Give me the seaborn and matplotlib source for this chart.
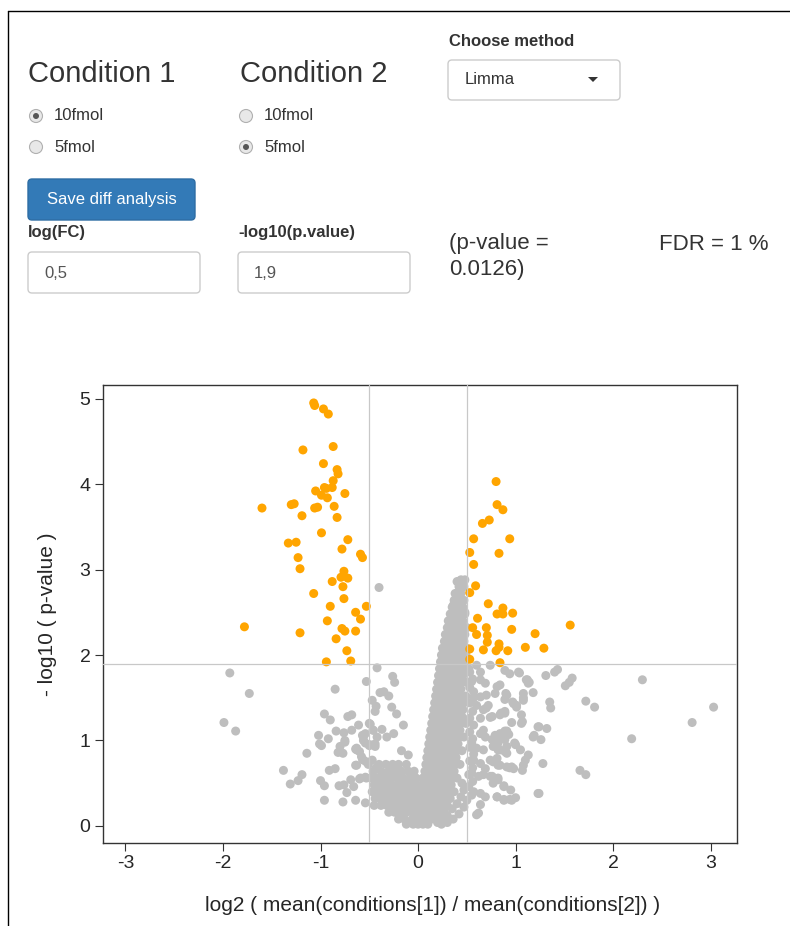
import pandas as pd
import seaborn as sns
import matplotlib.pyplot as plt
from matplotlib.patches import FancyBboxPatch, Circle, Polygon

sns.set_style("ticks")
plt.rcParams["font.family"] = ["Liberation Sans", "DejaVu Sans"]
plt.rcParams["axes.unicode_minus"] = False

# thresholds chosen in the app
fc_cut = 0.5
p_cut = 1.9

# significant proteins (log2 FC, -log10 p)
orange_pts = [
    (-1.07, 4.95), (-1.06, 4.92), (-0.97, 4.88), (-0.92, 4.82), (-1.18, 4.40), (-0.87, 4.44),
    (-0.97, 4.24), (-0.83, 4.17), (-0.82, 4.12), (-0.87, 4.04), (-1.05, 3.92), (-0.96, 3.96),
    (-0.94, 3.95), (-0.88, 3.96), (-0.99, 3.87), (-0.93, 3.84), (-0.75, 3.89), (-1.60, 3.72),
    (-1.30, 3.76), (-1.27, 3.77), (-1.06, 3.72), (-1.03, 3.73), (-0.86, 3.74), (-1.19, 3.63),
    (-0.83, 3.61), (-0.99, 3.43), (-1.33, 3.31), (-1.25, 3.32), (-0.72, 3.35), (-0.78, 3.24),
    (-0.59, 3.18), (-0.57, 3.14), (-1.23, 3.14), (-1.21, 3.01), (-0.76, 2.98), (-0.79, 2.91),
    (-0.72, 2.90), (-0.88, 2.86), (-0.77, 2.80), (-1.07, 2.72), (-0.76, 2.66), (-0.90, 2.57),
    (-0.53, 2.57), (-0.64, 2.50), (-0.59, 2.42), (-0.93, 2.40), (-1.78, 2.33), (-1.21, 2.26),
    (-0.78, 2.31), (-0.75, 2.28), (-0.64, 2.28), (-0.84, 2.19), (-0.73, 2.05), (-0.94, 1.92),
    (-0.69, 1.93),
    (0.80, 4.03), (0.81, 3.76), (0.87, 3.70), (0.66, 3.54), (0.73, 3.58), (0.57, 3.36),
    (0.94, 3.36), (0.53, 3.20), (0.83, 3.19), (0.57, 3.06), (0.59, 2.81), (0.53, 2.73),
    (0.72, 2.60), (0.87, 2.55), (0.81, 2.48), (0.87, 2.48), (0.97, 2.49), (1.56, 2.35),
    (0.61, 2.43), (0.56, 2.32), (0.70, 2.32), (0.96, 2.30), (0.60, 2.24), (0.71, 2.23),
    (0.71, 2.15), (1.20, 2.25), (0.83, 2.13), (0.83, 2.09), (0.53, 2.07), (0.67, 2.06),
    (0.80, 2.05), (0.92, 2.05), (1.10, 2.09), (1.29, 2.08), (0.53, 1.95), (0.84, 1.91),
]

# non significant proteins, scattered ones
grey_pts = [
    (-1.93, 1.79), (-1.73, 1.55), (-1.99, 1.21), (-1.87, 1.11), (-0.40, 2.79),
    (-0.85, 1.60), (-0.53, 1.69), (-0.42, 1.85), (-0.26, 1.75), (-0.24, 1.68),
    (-0.39, 1.56), (-0.35, 1.57), (-0.30, 1.52), (-0.47, 1.47), (-0.43, 1.40), (-0.44, 1.34),
    (-0.27, 1.39), (-0.22, 1.31), (-0.15, 1.18), (-0.96, 1.31), (-0.90, 1.24), (-0.72, 1.28),
    (-0.68, 1.30), (-0.61, 1.18), (-0.50, 1.20), (-0.46, 1.12), (-0.37, 1.13), (-0.32, 1.04),
    (-0.25, 1.08), (-0.68, 1.12), (-0.84, 1.11), (-0.76, 1.09), (-1.02, 1.06), (-0.92, 1.02),
    (-0.57, 1.06), (-0.56, 1.00), (-0.75, 1.00), (-1.01, 0.96), (-0.99, 0.94), (-0.80, 0.93),
    (-0.82, 0.86), (-0.77, 0.85), (-0.50, 0.94), (-0.44, 0.96), (-0.64, 0.90), (-0.60, 0.87),
    (-1.14, 0.85), (-0.17, 0.88), (-0.10, 0.83), (-0.57, 0.78), (-0.51, 0.72), (-0.64, 0.71),
    (-0.91, 0.65), (-0.85, 0.67), (-1.38, 0.65), (-1.19, 0.60), (-1.23, 0.53), (-1.31, 0.49),
    (-1.00, 0.53), (-0.96, 0.47), (-0.81, 0.47), (-0.76, 0.48), (-0.69, 0.54), (-0.66, 0.46),
    (-0.73, 0.39), (-0.60, 0.55), (-0.54, 0.57), (-0.96, 0.30), (-0.77, 0.28), (-0.64, 0.30),
    (-0.54, 0.27), (-0.75, 0.98), (-0.63, 0.91), (-0.56, 1.04), (-0.54, 0.97), (-0.63, 0.71),
    (-0.56, 0.77), (-0.59, 0.56), (-0.53, 0.56), (-0.49, 1.19), (-0.54, 1.08), (-0.46, 1.12),
    (-0.42, 1.04), (-0.49, 0.95), (-0.44, 0.93), (-0.63, 0.89), (-0.58, 0.81), (-0.53, 0.75),
    (-0.47, 0.77),
    (2.30, 1.71), (3.03, 1.39), (2.81, 1.21), (2.19, 1.02), (1.66, 0.65), (1.72, 0.60),
    (1.24, 0.38), (1.72, 1.46), (1.81, 1.39), (1.35, 1.45), (1.36, 1.38), (1.31, 1.76),
    (1.40, 1.80), (1.43, 1.83), (1.51, 1.64), (1.55, 1.68), (1.58, 1.73), (1.24, 1.16),
    (1.32, 1.14), (1.19, 1.06), (1.26, 1.01), (1.28, 0.73), (1.18, 1.56), (1.04, 1.79),
    (1.11, 1.71), (1.14, 1.68), (1.08, 1.55), (1.08, 1.50), (1.06, 1.30), (1.07, 1.22),
    (0.96, 1.21), (0.97, 1.45), (1.01, 1.41), (0.90, 1.55), (0.89, 1.48), (0.99, 0.97),
    (1.05, 0.89), (1.13, 0.83), (1.10, 0.77), (1.07, 0.65), (0.94, 0.68), (0.98, 0.67),
    (0.88, 0.47), (0.95, 0.42), (1.00, 0.33), (0.81, 0.34), (0.88, 0.31), (0.94, 0.31),
    (0.84, 1.05), (0.89, 1.11), (0.93, 1.07), (0.80, 1.05), (0.79, 0.99), (0.85, 1.32),
    (0.89, 1.34), (0.76, 1.28), (0.70, 1.38), (0.91, 0.93), (0.82, 0.89), (0.89, 0.87),
    (0.77, 0.75), (0.82, 0.71), (0.76, 0.58), (0.82, 0.56), (0.89, 1.82), (0.94, 1.78),
    (0.74, 1.88), (0.70, 1.53), (0.79, 1.55), (0.81, 1.63), (0.60, 1.88), (0.64, 1.80),
    (1.03, 1.80), (1.12, 1.71), (1.13, 1.67), (0.64, 1.71), (0.69, 1.67), (0.55, 1.69),
    (0.84, 1.65), (0.91, 1.53), (0.64, 1.51), (0.57, 1.57), (0.72, 1.41), (0.67, 1.36),
    (0.60, 1.41), (0.98, 1.43), (1.01, 1.39), (1.08, 1.47), (0.84, 1.30), (0.89, 1.32),
    (0.74, 1.27), (0.64, 1.26), (1.06, 1.20), (0.67, 1.12), (0.69, 1.04), (0.64, 1.08),
    (0.79, 1.06), (0.84, 1.08), (0.91, 1.11), (0.76, 1.01), (0.82, 0.97), (0.89, 1.01),
    (0.55, 0.97), (0.60, 0.91), (0.67, 0.89), (0.77, 0.93), (0.84, 0.89), (0.91, 0.85),
    (1.00, 0.95), (0.74, 0.77), (0.81, 0.79), (0.84, 0.71), (0.57, 0.77), (0.64, 0.73),
    (0.69, 0.67), (0.91, 0.69), (0.96, 0.69), (1.08, 0.71), (0.55, 0.62), (0.62, 0.58),
    (0.67, 0.60), (0.74, 0.58), (0.77, 0.50), (0.82, 0.54), (0.88, 0.46), (0.57, 0.40),
    (0.64, 0.38), (0.69, 0.34), (0.81, 0.34), (0.88, 0.30), (0.96, 0.30), (1.23, 0.38),
    (0.64, 0.25), (0.62, 0.15), (0.60, 0.13), (1.18, 1.04), (1.23, 1.16),
    (0.53, 1.80), (0.56, 1.72), (0.53, 1.62), (0.57, 1.50), (0.53, 1.44), (0.56, 1.34),
    (0.53, 1.26), (0.57, 1.18), (0.53, 1.10), (0.56, 1.02), (0.53, 0.92), (0.57, 0.84),
    (0.53, 0.76), (0.56, 0.68), (0.52, 0.60), (0.56, 0.52), (0.52, 0.46), (0.55, 0.36),
    (0.50, 0.30), (0.47, 0.22), (0.42, 0.14), (0.36, 0.08), (0.30, 0.04), (0.24, 0.02),
    (0.45, 0.50), (0.47, 0.42), (0.44, 0.34), (0.40, 0.26), (0.35, 0.20), (0.30, 0.12),
    (0.25, 0.08), (0.20, 0.04), (0.40, 2.86), (0.38, 2.72), (0.36, 2.58), (0.48, 2.50),
    (-0.43, 0.68), (-0.35, 0.60), (-0.27, 0.68), (-0.19, 0.60), (-0.12, 0.52), (-0.38, 0.44),
    (-0.30, 0.36), (-0.23, 0.44), (-0.16, 0.28), (-0.10, 0.20), (-0.36, 0.28), (-0.05, 0.36),
]

# dense wedge of non significant proteins, one row per -log10 p level
grey_core = [
    (2.88, [0.44, 0.48]),
    (2.80, [0.42, 0.47]),
    (2.72, [0.40, 0.44]),
    (2.64, [0.37, 0.42, 0.47]),
    (2.56, [0.35, 0.40, 0.46]),
    (2.48, [0.33, 0.38, 0.43, 0.48]),
    (2.40, [0.31, 0.36, 0.41, 0.46]),
    (2.32, [0.30, 0.35, 0.40, 0.45, 0.50]),
    (2.24, [0.28, 0.33, 0.38, 0.43, 0.48]),
    (2.16, [0.27, 0.32, 0.37, 0.42, 0.47]),
    (2.08, [0.25, 0.30, 0.35, 0.40, 0.45, 0.50]),
    (2.00, [0.24, 0.29, 0.34, 0.39, 0.44, 0.49]),
    (1.92, [0.23, 0.28, 0.33, 0.38, 0.43, 0.48]),
    (1.84, [0.22, 0.27, 0.32, 0.37, 0.42, 0.47, 0.52]),
    (1.76, [0.21, 0.26, 0.31, 0.36, 0.41, 0.46]),
    (1.68, [0.20, 0.25, 0.30, 0.35, 0.40, 0.45, 0.50]),
    (1.60, [0.19, 0.24, 0.29, 0.34, 0.39, 0.44]),
    (1.52, [0.18, 0.23, 0.28, 0.33, 0.38, 0.43, 0.49]),
    (1.44, [0.17, 0.22, 0.27, 0.32, 0.37, 0.42, 0.47]),
    (1.36, [0.16, 0.21, 0.26, 0.31, 0.36, 0.41, 0.46]),
    (1.28, [0.15, 0.20, 0.25, 0.30, 0.35, 0.40, 0.45]),
    (1.20, [0.14, 0.19, 0.24, 0.29, 0.34, 0.39, 0.44, 0.49]),
    (1.12, [0.13, 0.18, 0.23, 0.28, 0.33, 0.38, 0.43]),
    (1.04, [0.12, 0.17, 0.22, 0.27, 0.32, 0.37, 0.42, 0.47]),
    (0.96, [0.11, 0.16, 0.21, 0.26, 0.31, 0.36, 0.41]),
    (0.88, [0.10, 0.15, 0.20, 0.25, 0.30, 0.35, 0.40, 0.45]),
    (0.80, [0.09, 0.14, 0.19, 0.24, 0.29, 0.34, 0.39]),
    (0.72, [-0.40, -0.33, -0.26, -0.20, -0.12, 0.08, 0.13, 0.18, 0.23, 0.28, 0.33, 0.38, 0.43]),
    (0.64, [-0.46, -0.38, -0.30, -0.24, -0.17, -0.10, -0.04, 0.07, 0.12, 0.17, 0.22, 0.27, 0.32, 0.37]),
    (0.56, [-0.48, -0.42, -0.36, -0.29, -0.22, -0.15, -0.08, -0.02, 0.05, 0.10, 0.15, 0.20, 0.25, 0.30, 0.35, 0.40]),
    (0.48, [-0.45, -0.40, -0.33, -0.27, -0.20, -0.14, -0.07, -0.01, 0.04, 0.09, 0.14, 0.19, 0.24, 0.29, 0.34]),
    (0.40, [-0.47, -0.41, -0.35, -0.29, -0.23, -0.17, -0.11, -0.04, 0.02, 0.07, 0.12, 0.17, 0.22, 0.27, 0.32, 0.37]),
    (0.32, [-0.44, -0.38, -0.32, -0.26, -0.20, -0.14, -0.08, -0.02, 0.03, 0.08, 0.13, 0.18, 0.23, 0.28, 0.33]),
    (0.24, [-0.45, -0.38, -0.32, -0.26, -0.20, -0.14, -0.08, -0.05, 0.00, 0.05, 0.10, 0.15, 0.20, 0.25, 0.30]),
    (0.16, [-0.30, -0.24, -0.18, -0.12, -0.06, -0.03, 0.02, 0.07, 0.12, 0.17, 0.22, 0.27]),
    (0.08, [-0.20, -0.14, -0.06, -0.01, 0.04, 0.09, 0.14, 0.19]),
    (0.02, [-0.12, -0.05, 0.00, 0.05, 0.10]),
]

rows = [(x, y, "grey") for x, y in grey_pts]
for y, xs in grey_core:
    rows += [(x, y, "grey") for x in xs]
rows += [(x, y, "orange") for x, y in orange_pts]
df = pd.DataFrame(rows, columns=["logFC", "logp", "grp"])

W, H = 790, 926
fig = plt.figure(figsize=(W / 100, H / 100), dpi=100)

# page layer in pixel coordinates for the Shiny controls
ui = fig.add_axes([0, 0, 1, 1])
ui.set_xlim(0, W)
ui.set_ylim(H, 0)
ui.axis("off")

txt = "#333333"
ui.plot([8, W], [11, 11], color="black", lw=1)
ui.plot([8, 8], [11, H], color="black", lw=1)

ui.text(28, 82, "Condition 1", fontsize=21, color=txt, va="baseline")
ui.text(240, 82, "Condition 2", fontsize=21, color=txt, va="baseline")

radios = [(36, 116, True), (36, 147, False), (246, 116, False), (246, 147, True)]
for cx, cy, on in radios:
    ui.add_patch(Circle((cx, cy), 6.5, fc="#e8e8e8", ec="#b0b0b0", lw=0.8))
    if on:
        ui.add_patch(Circle((cx, cy), 3, fc="#555555", ec="none"))
for x0 in (54, 264):
    ui.text(x0, 116, "10fmol", fontsize=12, color=txt, va="center")
    ui.text(x0, 147, "5fmol", fontsize=12, color=txt, va="center")

ui.text(449, 41, "Choose method", fontsize=12, fontweight="bold", color=txt, va="center")
ui.add_patch(FancyBboxPatch((448, 60), 172, 40, boxstyle="round,pad=0,rounding_size=4",
                            fc="white", ec="#cccccc", lw=1))
ui.text(465, 80, "Limma", fontsize=12, color=txt, va="center")
ui.add_patch(Polygon([(588, 77), (598, 77), (593, 82)], closed=True, fc=txt, ec="none"))

ui.add_patch(FancyBboxPatch((28, 179), 167, 41, boxstyle="round,pad=0,rounding_size=4",
                            fc="#337ab7", ec="#2e6da4", lw=1))
ui.text(111.5, 199.5, "Save diff analysis", fontsize=12, color="white", ha="center", va="center")

ui.text(28, 233, "log(FC)", fontsize=12, fontweight="bold", color=txt, va="center")
ui.text(238, 233, "-log10(p.value)", fontsize=12, fontweight="bold", color=txt, va="center")
for x0, val in ((28, "0,5"), (238, "1,9")):
    ui.add_patch(FancyBboxPatch((x0, 252), 172, 41, boxstyle="round,pad=0,rounding_size=4",
                                fc="white", ec="#cccccc", lw=1))
    ui.text(x0 + 16, 273, val, fontsize=12, color="#555555", va="center")

ui.text(449, 244, "(p-value =", fontsize=16, color=txt, va="center")
ui.text(449, 270, "0.0126)", fontsize=16, color=txt, va="center")
ui.text(659, 244, "FDR = 1 %", fontsize=16, color=txt, va="center")

# volcano plot
ax = fig.add_axes([103 / W, 1 - 843 / H, 634 / W, 458 / H])
sns.scatterplot(data=df, x="logFC", y="logp", hue="grp",
                palette={"grey": "#BEBEBE", "orange": "#FFA500"},
                s=42, linewidth=0, legend=False, ax=ax, zorder=2)
ax.axhline(p_cut, color="#C8C8C8", lw=0.9, zorder=3)
ax.axvline(-fc_cut, color="#C8C8C8", lw=0.9, zorder=3)
ax.axvline(fc_cut, color="#C8C8C8", lw=0.9, zorder=3)

ax.set_xlim(-3.23, 3.27)
ax.set_ylim(-0.2, 5.16)
ax.set_xticks(range(-3, 4))
ax.set_yticks(range(0, 6))
for sp in ax.spines.values():
    sp.set_visible(True)
    sp.set_color("#333333")
    sp.set_linewidth(1)
ax.tick_params(direction="out", length=6, width=0.8, labelsize=14, color="#333333", pad=3)
ax.set_xlabel("log2 ( mean(conditions[1]) / mean(conditions[2]) )", fontsize=15)
ax.set_ylabel("- log10 ( p-value )", fontsize=15, labelpad=16)
ax.xaxis.set_label_coords(0.52, -0.115)

fig.savefig("out.png", dpi=100)
